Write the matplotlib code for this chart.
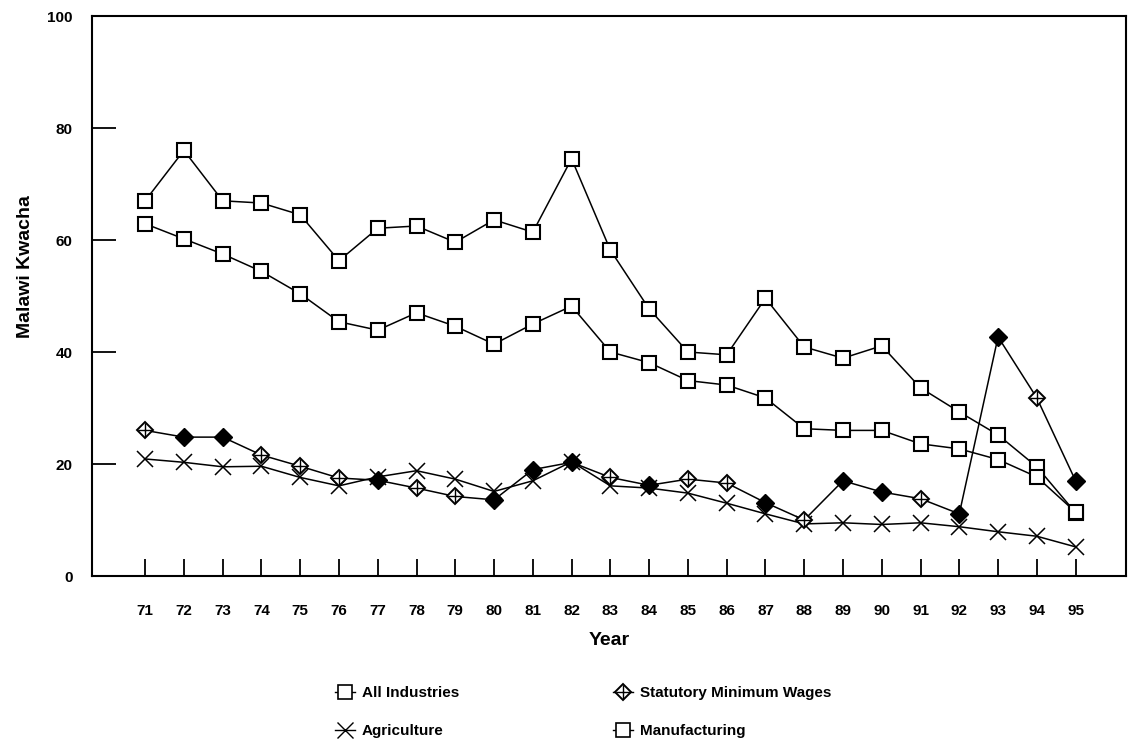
import matplotlib

matplotlib.use("Agg")
import matplotlib.pyplot as plt
from matplotlib.lines import Line2D


years = list(range(71, 96))
year_labels = [str(y) for y in years]

manufacturing = [67.0, 76.0, 67.0, 66.6, 64.5, 56.3, 62.1, 62.5, 59.6, 63.6, 61.4, 74.5,
                 58.2, 47.7, 40.0, 39.5, 49.6, 40.9, 38.9, 41.1, 33.6, 29.3, 25.2, 19.5, 11.3]
all_industries = [62.9, 60.2, 57.5, 54.4, 50.4, 45.4, 43.9, 47.0, 44.6, 41.4, 45.0, 48.2,
                  40.0, 38.1, 34.9, 34.1, 31.8, 26.3, 26.0, 26.0, 23.6, 22.7, 20.8, 17.7, 11.4]
statutory_min = [26.0, 24.8, 24.8, 21.6, 19.6, 17.5, 17.1, 15.7, 14.2, 13.6, 19.0, 20.3,
                 17.6, 16.2, 17.3, 16.6, 13.1, 10.0, 17.0, 15.0, 13.8, 11.1, 42.7, 31.8, 17.0]
agriculture = [20.9, 20.3, 19.5, 19.6, 17.6, 16.1, 17.7, 18.8, 17.3, 15.1, 17.0, 20.4,
               16.1, 15.7, 14.8, 13.0, 11.1, 9.3, 9.5, 9.2, 9.5, 8.8, 7.9, 7.1, 5.2]

# years where the minimum-wage diamond is drawn solid
solid_years = [72, 73, 77, 80, 81, 82, 84, 87, 89, 90, 92, 93, 95]

FONT = "Liberation Sans"


def main():
    fig = plt.figure(figsize=(11.28, 7.53), dpi=100)
    ax = fig.add_axes([92 / 1128, 177 / 753, (1126 - 92) / 1128, (576 - 16) / 753])

    sq = dict(color="black", linewidth=1.1, marker="s", markersize=10,
              markerfacecolor="white", markeredgecolor="black", markeredgewidth=1.5)
    ax.plot(years, manufacturing, **sq, zorder=3)
    ax.plot(years, all_industries, **sq, zorder=3)

    ax.plot(years, agriculture, color="black", linewidth=1.1, marker="x",
            markersize=12, markeredgewidth=1.1, zorder=4)

    ax.plot(years, statutory_min, color="black", linewidth=1.1, zorder=4)
    hollow = [i for i, y in enumerate(years) if y not in solid_years]
    solid = [i for i, y in enumerate(years) if y in solid_years]
    ax.plot([years[i] for i in hollow], [statutory_min[i] for i in hollow], linestyle="none",
            marker="D", markersize=8, markerfacecolor="white", markeredgecolor="black",
            markeredgewidth=1.4, zorder=5)
    ax.plot([years[i] for i in hollow], [statutory_min[i] for i in hollow], linestyle="none",
            marker="+", markersize=10, markeredgecolor="black", markeredgewidth=1.0, zorder=6)
    ax.plot([years[i] for i in solid], [statutory_min[i] for i in solid], linestyle="none",
            marker="D", markersize=9, markerfacecolor="black", markeredgecolor="black", zorder=5)

    ax.set_xlim(69.63, 96.3)
    ax.set_ylim(0, 100)
    ax.set_xticks(years)
    ax.set_xticklabels(year_labels)
    ax.set_yticks([0, 20, 40, 60, 80, 100])
    ax.tick_params(axis="x", direction="in", length=12, width=1.3, pad=20)
    ax.tick_params(axis="y", direction="in", length=17, width=1.3, pad=14)
    for lab in ax.get_xticklabels() + ax.get_yticklabels():
        lab.set_fontfamily(FONT)
        lab.set_fontweight("bold")
        lab.set_fontsize(11)
    for sp in ax.spines.values():
        sp.set_linewidth(1.5)

    ax.set_xlabel("Year", fontfamily=FONT, fontweight="bold", fontsize=14, labelpad=10)
    ax.set_ylabel("Malawi Kwacha", fontfamily=FONT, fontweight="bold", fontsize=14)
    ax.yaxis.set_label_coords(-0.056, 0.552)

    h_sq = Line2D([], [], color="black", linewidth=1.0, marker="s", markersize=10,
                  markerfacecolor="white", markeredgecolor="black", markeredgewidth=1.2)
    h_x = Line2D([], [], color="black", linewidth=1.0, marker="x", markersize=12,
                 markeredgewidth=1.0)
    h_d = (Line2D([], [], color="black", linewidth=1.0, marker="D", markersize=8,
                  markerfacecolor="white", markeredgecolor="black", markeredgewidth=1.4),
           Line2D([], [], linestyle="none", marker="+", markersize=10,
                  markeredgecolor="black", markeredgewidth=1.0))
    fig.legend([h_sq, h_x, h_d, h_sq],
               ["All Industries", "Agriculture", "Statutory Minimum Wages", "Manufacturing"],
               ncol=2, loc="center", bbox_to_anchor=(0.517, 0.054), frameon=False,
               handlelength=1.3, handletextpad=0.45, columnspacing=10.1, labelspacing=1.55,
               prop={"family": FONT, "weight": "bold", "size": 11})

    fig.savefig("out.png", dpi=100)
    plt.close(fig)


if __name__ == "__main__":
    main()
